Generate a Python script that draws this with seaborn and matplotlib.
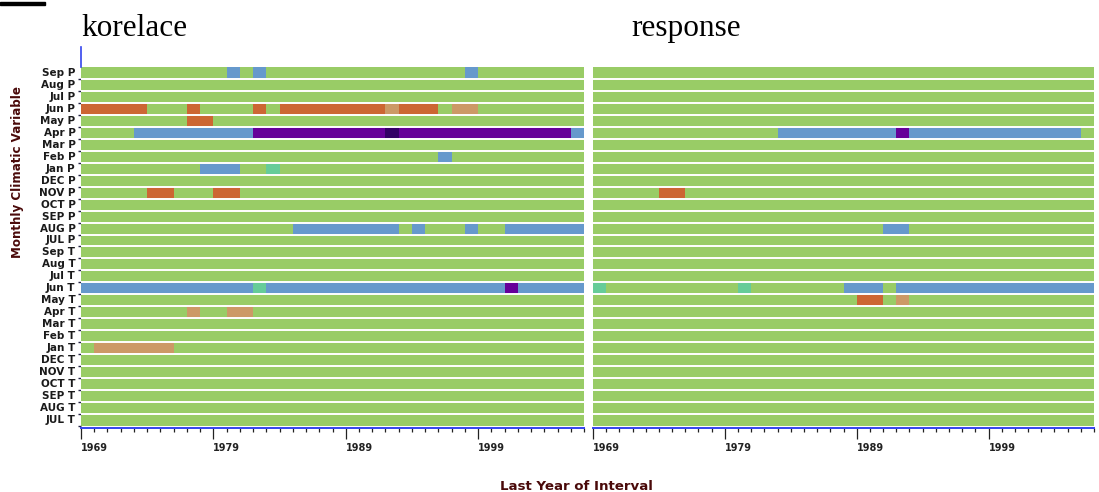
import numpy as np
import pandas as pd
import matplotlib
matplotlib.use("Agg")
import matplotlib.pyplot as plt
from matplotlib.colors import ListedColormap
from matplotlib.patches import Rectangle
import seaborn as sns

# ---------------- data ----------------
rows = ["Sep P", "Aug P", "Jul P", "Jun P", "May P", "Apr P", "Mar P", "Feb P", "Jan P",
        "DEC P", "NOV P", "OCT P", "SEP P", "AUG P", "JUL P", "Sep T", "Aug T", "Jul T",
        "Jun T", "May T", "Apr T", "Mar T", "Feb T", "Jan T", "DEC T", "NOV T", "OCT T",
        "SEP T", "AUG T", "JUL T"]
years = list(range(1969, 2007))          # 38 intervals (last year of interval)
tick_years = [1969, 1979, 1989, 1999]

# class codes: 0 green, 1 blue, 2 purple, 3 dark purple, 4 teal, 5 orange, 6 tan
class_colors = ["#99cc66", "#6699cc", "#660099", "#330066", "#66cc99", "#cc6633", "#cc9966"]
code = {"g": 0, "b": 1, "p": 2, "d": 3, "t": 4, "o": 5, "n": 6}

# segments: (first_year, last_year, class)
korelace = {
    "Sep P": [(1980, 1980, "b"), (1982, 1982, "b"), (1998, 1998, "b")],
    "Jun P": [(1969, 1973, "o"), (1977, 1977, "o"), (1982, 1982, "o"), (1984, 1991, "o"),
              (1992, 1992, "n"), (1993, 1995, "o"), (1997, 1998, "n")],
    "May P": [(1977, 1978, "o")],
    "Apr P": [(1973, 1981, "b"), (1982, 1991, "p"), (1992, 1992, "d"), (1993, 2005, "p"),
              (2006, 2006, "b")],
    "Feb P": [(1996, 1996, "b")],
    "Jan P": [(1978, 1980, "b"), (1983, 1983, "t")],
    "NOV P": [(1974, 1975, "o"), (1979, 1980, "o")],
    "AUG P": [(1985, 1992, "b"), (1994, 1994, "b"), (1998, 1998, "b"), (2001, 2006, "b")],
    "Jun T": [(1969, 1981, "b"), (1982, 1982, "t"), (1983, 2000, "b"), (2001, 2001, "p"),
              (2002, 2006, "b")],
    "Apr T": [(1977, 1977, "n"), (1980, 1981, "n")],
    "Jan T": [(1970, 1975, "n")],
}
response = {
    "Apr P": [(1983, 1991, "b"), (1992, 1992, "p"), (1993, 2005, "b")],
    "NOV P": [(1974, 1975, "o")],
    "AUG P": [(1991, 1992, "b")],
    "Jun T": [(1969, 1969, "t"), (1980, 1980, "t"), (1988, 1990, "b"), (1992, 2006, "b")],
    "May T": [(1989, 1990, "o"), (1992, 1992, "n")],
}
titles = ["korelace", "response"]


def build(segs):
    df = pd.DataFrame(0, index=rows, columns=years)
    for r, lst in segs.items():
        for a, b, c in lst:
            df.loc[r, a:b] = code[c]
    return df


# ---------------- figure ----------------
W, H = 1099, 492
fig = plt.figure(figsize=(W / 100, H / 100), dpi=100, facecolor="white")
cmap = ListedColormap(class_colors)
axis_blue = "#3344ee"
label_red = "#4a0a0a"

panel_x = [(81, 584), (593, 1094)]
top_px, bot_px = 47, 428
row_px = 12.0
extra_top = (67 - top_px) / row_px
extra_bot = (bot_px - 426) / row_px

for k, (data, (x0, x1)) in enumerate(zip([korelace, response], panel_x)):
    ax = fig.add_axes([x0 / W, 1 - bot_px / H, (x1 - x0) / W, (bot_px - top_px) / H])
    df = build(data)
    sns.heatmap(df, ax=ax, cmap=cmap, vmin=-0.5, vmax=len(class_colors) - 0.5,
                cbar=False, linewidths=0)
    n = len(rows)
    for i in range(1, n):
        ax.axhline(i, color="white", lw=1.4, zorder=3)
    ax.set_ylim(n + extra_bot, -extra_top)
    ax.set_xlim(0, len(years))

    # x axis
    ax.set_xticks([y - years[0] for y in tick_years])
    ax.set_xticklabels([str(y) for y in tick_years], rotation=0, ha="left",
                       fontsize=7, fontweight="bold", color="#222222")
    ax.set_xticks(np.arange(0, len(years) + 1), minor=True)
    ax.tick_params(axis="x", which="major", length=8, width=0.9, color="#222222",
                   pad=3, direction="out")
    ax.tick_params(axis="x", which="minor", length=2.6, width=0.9, color="#222222",
                   direction="out")
    ax.set_xlabel("")

    # y axis
    if k == 0:
        ax.set_yticks(np.arange(n) + 0.5)
        ax.set_yticklabels(rows, rotation=0, fontsize=7.5, fontweight="bold",
                           color="#1a1a1a")
        ax.set_yticks(np.arange(1, n + 1), minor=True)
        ax.tick_params(axis="y", which="major", length=0, pad=4)
        ax.tick_params(axis="y", which="minor", length=2.5, width=1.0, color="#222244")
    else:
        ax.set_yticks([])
    ax.set_ylabel("")

    for s in ax.spines.values():
        s.set_visible(False)
    ax.spines["bottom"].set_visible(True)
    ax.spines["bottom"].set_color(axis_blue)
    ax.spines["bottom"].set_linewidth(1.4)
    if k == 0:
        ax.spines["left"].set_visible(True)
        ax.spines["left"].set_color(axis_blue)
        ax.spines["left"].set_linewidth(1.2)
        ax.spines["left"].set_bounds(-extra_top, 0)

    fig.text(x0 / W if k == 0 else 631 / W, 1 - 36 / H, titles[k],
             family="Liberation Serif", fontsize=22.5, color="black",
             ha="left", va="baseline")

fig.text(18 / W, 1 - 172 / H, "Monthly Climatic Variable", rotation=90,
         fontsize=8.6, fontweight="bold", color=label_red, ha="center", va="center")
fig.text(576 / W, 1 - 486 / H, "Last Year of Interval", fontsize=9.6,
         fontweight="bold", color=label_red, ha="center", va="center")
fig.add_artist(Rectangle((0, 1 - 5 / H), 45 / W, 3 / H, transform=fig.transFigure,
                         color="black"))

fig.savefig("out.png", dpi=100, facecolor="white")
